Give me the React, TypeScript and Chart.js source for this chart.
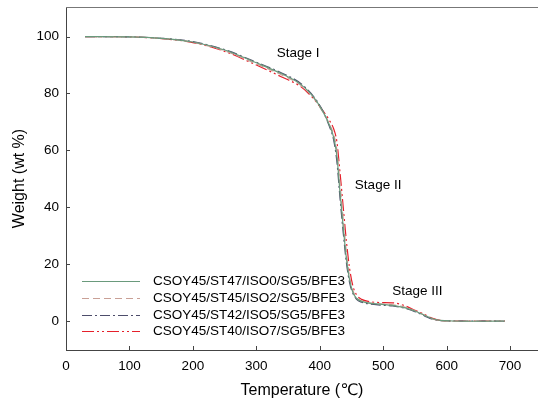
import { useEffect, useRef } from "react";
import { Chart, registerables } from "chart.js";

Chart.register(...registerables);

// ---------- data ----------
const temperatures = [30, 100, 150, 200, 250, 300, 340, 370, 390, 405, 415, 422, 427, 432, 437, 442, 447, 452, 458, 466, 478, 495, 515, 535, 550, 565, 578, 590, 610, 650, 692];

const weightST47 = [100, 99.9, 99.4, 98.1, 95.3, 90.8, 86.9, 83.2, 78.8, 73.6, 69.0, 64.5, 58, 45, 33, 22, 14.5, 10.2, 8.0, 6.9, 6.3, 5.9, 5.5, 4.6, 3.5, 2.0, 0.8, 0.2, 0, -0.1, 0];
const weightST45 = [100, 99.9, 99.3, 98.0, 95.0, 90.4, 86.5, 82.9, 78.5, 73.4, 69.3, 65.5, 60, 48, 36, 24, 15.5, 10.8, 8.3, 7.1, 6.4, 6.0, 5.7, 4.8, 3.6, 2.1, 0.7, 0.1, -0.1, 0, 0];
const weightST42 = [100, 99.9, 99.4, 98.2, 95.4, 91.0, 87.2, 83.5, 79.0, 73.8, 68.5, 63.5, 56, 43, 31, 20.5, 13.5, 9.8, 7.6, 6.6, 6.0, 5.6, 5.3, 4.4, 3.3, 1.8, 0.6, 0.1, 0, 0, -0.1];
const weightST40 = [100, 99.9, 99.3, 97.9, 94.8, 90.0, 85.8, 82.4, 78.2, 73.9, 70.6, 67.5, 63, 52, 40, 28, 18.5, 12.5, 9.2, 7.6, 6.8, 6.5, 6.4, 5.3, 3.8, 2.3, 0.9, 0.2, 0, 0, 0];

const seriesLabels = [
  "CSOY45/ST47/ISO0/SG5/BFE3",
  "CSOY45/ST45/ISO2/SG5/BFE3",
  "CSOY45/ST42/ISO5/SG5/BFE3",
  "CSOY45/ST40/ISO7/SG5/BFE3",
];

const xTicks = [0, 100, 200, 300, 400, 500, 600, 700];
const yTicks = [0, 20, 40, 60, 80, 100];

const stageTexts = ["Stage I", "Stage II", "Stage III"];
const stageTemps = [366, 492, 554];
const stageWeights = [94.2, 47.8, 10.5];

// ---------- styles ----------
const FONT = "'Liberation Sans', Arial, 'DejaVu Sans', sans-serif";
const seriesColors = ["#6a9a7c", "#c9a096", "#4d4d6b", "#e5202b"];
const seriesDashes: number[][] = [[], [7, 4], [10, 3, 2, 3], [12, 3, 2, 3, 2, 3]];

const decorPlugin = {
  id: "decor",
  afterDraw(chart: any) {
    const { ctx, chartArea, scales } = chart;
    const xs = scales.x;
    const ys = scales.y;
    ctx.save();
    // top frame line
    ctx.strokeStyle = "#777";
    ctx.lineWidth = 1;
    ctx.beginPath();
    ctx.moveTo(chartArea.left, Math.round(chartArea.top) + 0.5);
    ctx.lineTo(chart.width, Math.round(chartArea.top) + 0.5);
    ctx.stroke();

    // inward ticks
    ctx.strokeStyle = "#444";
    ctx.beginPath();
    for (const v of xTicks) {
      const px = Math.round(xs.getPixelForValue(v)) + 0.5;
      ctx.moveTo(px, chartArea.bottom);
      ctx.lineTo(px, chartArea.bottom - 4);
    }
    for (const v of yTicks) {
      const py = Math.round(ys.getPixelForValue(v)) + 0.5;
      ctx.moveTo(chartArea.left, py);
      ctx.lineTo(chartArea.left + 4, py);
    }
    ctx.stroke();

    // stage annotations
    ctx.fillStyle = "#000";
    ctx.font = `13.5px ${FONT}`;
    ctx.textAlign = "center";
    ctx.textBaseline = "middle";
    stageTexts.forEach((t, i) => {
      ctx.fillText(t, xs.getPixelForValue(stageTemps[i]), ys.getPixelForValue(stageWeights[i]));
    });

    // legend
    const rowY = [281, 298, 314.5, 331];
    ctx.textAlign = "left";
    seriesLabels.forEach((label, i) => {
      const y = Math.round(rowY[i]);
      ctx.strokeStyle = seriesColors[i];
      ctx.lineWidth = 1;
      ctx.setLineDash(seriesDashes[i]);
      ctx.beginPath();
      ctx.moveTo(82, y + 0.5);
      ctx.lineTo(140, y + 0.5);
      ctx.stroke();
      ctx.setLineDash([]);
      ctx.fillStyle = "#000";
      ctx.fillText(label, 153, y + 0.5);
    });
    ctx.restore();
  },
};

export default function App() {
  const canvasRef = useRef<HTMLCanvasElement | null>(null);

  useEffect(() => {
    const canvas = canvasRef.current;
    if (!canvas) return;
    const allSeries = [weightST47, weightST45, weightST42, weightST40];
    const chart = new Chart(canvas, {
      type: "line",
      data: {
        datasets: allSeries.map((w, i) => ({
          label: seriesLabels[i],
          data: temperatures.map((t, j) => ({ x: t, y: w[j] })),
          borderColor: seriesColors[i],
          borderDash: seriesDashes[i],
          borderWidth: 1.2,
          pointRadius: 0,
          fill: false,
          cubicInterpolationMode: "monotone" as const,
        })),
      },
      options: {
        animation: false,
        responsive: false,
        devicePixelRatio: 1,
        layout: { padding: { top: 7, left: 0, right: 0, bottom: 0 } },
        plugins: { legend: { display: false }, tooltip: { enabled: false } },
        scales: {
          x: {
            type: "linear",
            min: 0,
            max: 744,
            afterBuildTicks: (s: any) => {
              s.ticks = xTicks.map((v) => ({ value: v }));
            },
            afterFit: (s: any) => {
              s.height = 55;
              s.paddingLeft = 0;
              s.paddingRight = 0;
            },
            grid: { display: false, drawTicks: false },
            border: { display: true, color: "#444", width: 1 },
            ticks: {
              color: "#000",
              font: { family: FONT, size: 13.5 },
              padding: 8,
              maxRotation: 0,
              autoSkip: false,
            },
            title: {
              display: true,
              text: "Temperature (\u2103)",
              color: "#000",
              font: { family: FONT, size: 16 },
              padding: { top: 0, bottom: 4.5 },
            },
          },
          y: {
            type: "linear",
            min: -10.2,
            max: 110.4,
            afterBuildTicks: (s: any) => {
              s.ticks = yTicks.map((v) => ({ value: v }));
            },
            afterFit: (s: any) => {
              s.width = 66;
              s.paddingTop = 0;
              s.paddingBottom = 0;
            },
            grid: { display: false, drawTicks: false },
            border: { display: true, color: "#444", width: 1 },
            ticks: {
              color: "#000",
              font: { family: FONT, size: 13.5 },
              padding: 7,
              autoSkip: false,
            },
            title: {
              display: true,
              text: "Weight (wt %)",
              color: "#000",
              font: { family: FONT, size: 16 },
              padding: { top: 9.5, bottom: 0 },
            },
          },
        },
      },
      plugins: [decorPlugin],
    });
    return () => chart.destroy();
  }, []);

  return (
    <div style={{ position: "fixed", left: 0, top: 0, width: 538, height: 405, background: "#fff" }}>
      <canvas ref={canvasRef} width={538} height={405} style={{ width: 538, height: 405, display: "block" }} />
    </div>
  );
}
